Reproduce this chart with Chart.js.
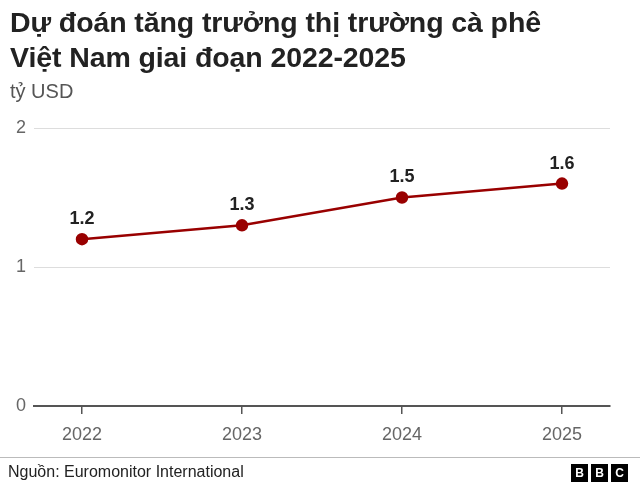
<!DOCTYPE html>
<html>
<head>
<meta charset="utf-8">
<script src="https://cdn.jsdelivr.net/npm/chart.js@4"></script>
<style>
    html, body { margin: 0; padding: 0; background: #fff; }
    body { width: 640px; height: 487px; position: relative; overflow: hidden; font-family: "Liberation Sans", Arial, sans-serif; }
    #wrap { position: absolute; left: 0; top: 0; width: 640px; height: 487px; }
    .title { position: absolute; left: 10px; top: 5px; font-size: 28.5px; font-weight: bold; color: #222; line-height: 35px; letter-spacing: -0.1px; }
    .sub { position: absolute; left: 10px; top: 80px; font-size: 20px; color: #555; }
    .rule { position: absolute; left: 0; top: 457px; width: 640px; height: 1px; background: #bbb; }
    .src { position: absolute; left: 8px; top: 463px; font-size: 16px; color: #222; }
    .bbc { position: absolute; right: 12px; top: 464px; display: flex; gap: 3px; }
    .bbc span { width: 17px; height: 18px; background: #000; color: #fff; font-weight: bold; font-size: 12px; line-height: 18px; text-align: center; }
</style>
</head>
<body>
<div id="wrap"><canvas id="chart" width="640" height="487"></canvas></div>
<div class="title">Dự đoán tăng trưởng thị trường cà phê<br>Việt Nam giai đoạn 2022-2025</div>
<div class="sub">tỷ USD</div>
<div class="rule"></div>
<div class="src">Nguồn: Euromonitor International</div>
<div class="bbc"><span>B</span><span>B</span><span>C</span></div>
<script>
// ─── DATA ───────────────────────────────────────────────
var years = [2022, 2023, 2024, 2025];
var marketValue = [1.2, 1.3, 1.5, 1.6];
var yTicks = [0, 1, 2];

var lineColor = '#990000';

// labels above each point, positioned from the dataset meta
var pointLabels = {
    id: 'pointLabels',
    afterDatasetsDraw: function (chart) {
        var ctx = chart.ctx;
        var meta = chart.getDatasetMeta(0);
        ctx.save();
        ctx.font = 'bold 18px "Liberation Sans", Arial, sans-serif';
        ctx.fillStyle = '#222';
        ctx.textAlign = 'center';
        ctx.textBaseline = 'middle';
        meta.data.forEach(function (pt, i) {
            ctx.fillText(marketValue[i].toFixed(1), pt.x, pt.y - 20);
        });
        ctx.restore();
    }
};

new Chart(document.getElementById('chart').getContext('2d'), {
    type: 'line',
    data: {
        datasets: [{
            data: years.map(function (y, i) { return { x: y, y: marketValue[i] }; }),
            borderColor: lineColor,
            backgroundColor: lineColor,
            borderWidth: 2.5,
            pointRadius: 5,
            pointHoverRadius: 5,
            tension: 0
        }]
    },
    options: {
        responsive: false,
        animation: false,
        devicePixelRatio: 1,
        layout: { padding: { top: 128, right: 30, bottom: 31, left: 0 } },
        plugins: { legend: { display: false }, tooltip: { enabled: false } },
        scales: {
            x: {
                type: 'linear',
                min: 2021.7,
                max: 2025.3,
                afterBuildTicks: function (scale) {
                    scale.ticks = years.map(function (v) { return { value: v }; });
                },
                afterFit: function (scale) { scale.height = 50; },
                grid: { drawOnChartArea: false, drawTicks: true, tickLength: 8, color: '#555', lineWidth: 1.5 },
                border: { display: true, color: '#555', width: 2 },
                ticks: {
                    color: '#666',
                    padding: 10,
                    font: { size: 18, family: '"Liberation Sans", Arial, sans-serif' },
                    callback: function (v) { return String(v); }
                }
            },
            y: {
                min: 0,
                max: 2,
                afterBuildTicks: function (scale) {
                    scale.ticks = yTicks.map(function (v) { return { value: v }; });
                },
                afterFit: function (scale) { scale.width = 34; },
                grid: { color: '#dddddd', lineWidth: 1, drawTicks: false },
                border: { display: false },
                ticks: {
                    color: '#666',
                    padding: 8,
                    font: { size: 18, family: '"Liberation Sans", Arial, sans-serif' }
                }
            }
        }
    },
    plugins: [pointLabels]
});
</script>
</body>
</html>
